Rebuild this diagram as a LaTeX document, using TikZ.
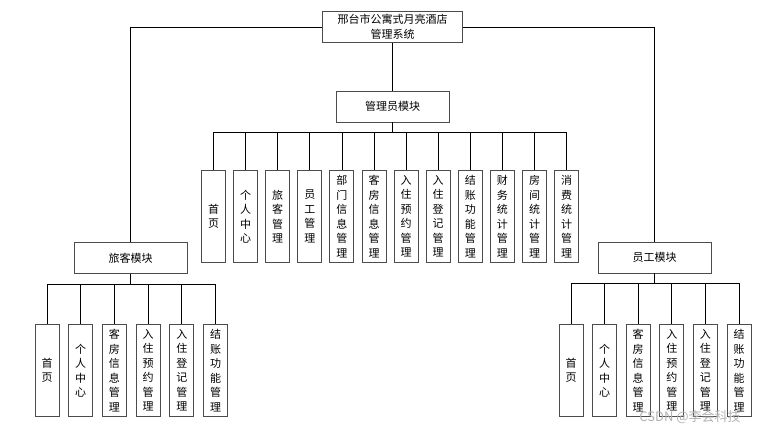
\documentclass[tikz,border=0pt]{standalone}
\usepackage{fontspec}
\setmainfont{Noto Sans CJK SC}
\usetikzlibrary{positioning, calc}

\tikzset{
  box/.style={draw=black!70, line width=0.9pt, fill=white, inner sep=1pt, align=center,
    font=\fontsize{11}{14.5}\selectfont},
  modbox/.style={box, minimum width=113pt, minimum height=31pt},
  leaf/.style={box, minimum width=24pt, minimum height=92pt},
  link/.style={line width=0.8pt},
}

\begin{document}
\begin{tikzpicture}[x=1pt, y=-1pt]
\useasboundingbox (0,0) rectangle (775,435);

% Root and module boxes
\node[box, minimum width=140pt, minimum height=31pt] (sys) at (392.5,27) {邢台市公寓式月亮酒店\\管理系统};
\node[modbox] (admin) at (392.5,106.5) {管理员模块};
\node[modbox] (guest) at (130.5,258) {旅客模块};
\node[modbox] (staff) at (654.5,257.5) {员工模块};

\draw[link] (sys.south) -- (admin.north);
\draw[link] (sys.west) -| (guest.north);
\draw[link] (sys.east) -| (staff.north);

% Admin functions
\foreach \t [count=\i] in {{首\\页}, {个\\人\\中\\心}, {旅\\客\\管\\理}, {员\\工\\管\\理},
    {部\\门\\信\\息\\管\\理}, {客\\房\\信\\息\\管\\理}, {入\\住\\预\\约\\管\\理},
    {入\\住\\登\\记\\管\\理}, {结\\账\\功\\能\\管\\理}, {财\\务\\统\\计\\管\\理},
    {房\\间\\统\\计\\管\\理}, {消\\费\\统\\计\\管\\理}} {
  \node[leaf] (a\i) at ({213.5+32.1*(\i-1)},216.5) {\t};
  \draw[link] (admin.south) -- ++(0,10) -| (a\i.north);
}

% Guest functions
\foreach \t [count=\i] in {{首\\页}, {个\\人\\中\\心}, {客\\房\\信\\息\\管\\理},
    {入\\住\\预\\约\\管\\理}, {入\\住\\登\\记\\管\\理}, {结\\账\\功\\能\\管\\理}} {
  \node[leaf] (g\i) at ({47+33.7*(\i-1)},370.5) {\t};
  \draw[link] (guest.south) -- ++(0,10) -| (g\i.north);
}

% Staff functions
\foreach \t [count=\i] in {{首\\页}, {个\\人\\中\\心}, {客\\房\\信\\息\\管\\理},
    {入\\住\\预\\约\\管\\理}, {入\\住\\登\\记\\管\\理}, {结\\账\\功\\能\\管\\理}} {
  \node[leaf] (s\i) at ({571+33.6*(\i-1)},370.5) {\t};
  \draw[link] (staff.south) -- ++(0,10) -| (s\i.north);
}

% Watermark
\node[text=black!30, font=\fontsize{13}{13}\selectfont] (mark) at (690,417) {CSDN @李会科技};

\end{tikzpicture}
\end{document}
